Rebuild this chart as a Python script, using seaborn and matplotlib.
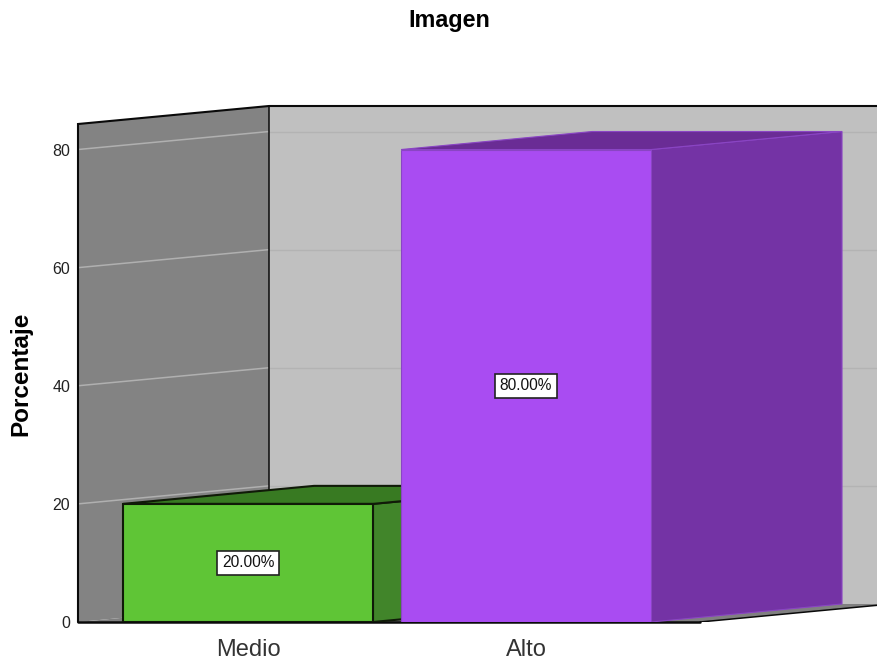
import matplotlib
matplotlib.use("Agg")
import matplotlib.pyplot as plt
from matplotlib.patches import Polygon
import pandas as pd
import seaborn as sns

categorias = ["Medio", "Alto"]
porcentajes = [20.0, 80.0]
colores_frente = ["#5fc536", "#a94cf2"]
colores_lateral = ["#41852a", "#7433a5"]
colores_techo = ["#387a22", "#6a2c95"]
bordes = ["#101a08", "#8a45c4"]
anchos_borde = [1.5, 0.8]
marcas_y = [0, 20, 40, 60, 80]

sns.set_style("white")
plt.rcParams["font.family"] = ["Liberation Sans", "DejaVu Sans"]

W, H = 878, 661
fig = plt.figure(figsize=(W / 100, H / 100), dpi=100)
ax = fig.add_axes([78 / W, (H - 622) / H, 800 / W, 516 / H])

df = pd.DataFrame({"Nivel": categorias, "Porcentaje": porcentajes})
sns.barplot(
    data=df, x="Nivel", y="Porcentaje", hue="Nivel", hue_order=categorias,
    order=categorias, palette=colores_frente, saturation=1, width=0.899,
    legend=False, ax=ax,
)

# Scale: 278 px between categories, 5.906 px per percentage point
x0, x1 = -0.6115, 2.266
y_max = 87.37
ax.set_xlim(x0, x1)
ax.set_ylim(0, y_max)
for s in ax.spines.values():
    s.set_visible(False)
ax.grid(False)

# Oblique depth of the 3D box
dx, dy = 191 / 278, 3.05
techo = y_max - dy
fin_suelo = 1.626
negro = "#0a0a0a"

# Walls and floor
ax.add_patch(Polygon([(x0 + dx, dy), (x1 + 1, dy), (x1 + 1, y_max), (x0 + dx, y_max)],
                     fc="#c0c0c0", ec="none", zorder=0.5))
ax.add_patch(Polygon([(x0, 0), (x0 + dx, dy), (x0 + dx, y_max), (x0, techo)],
                     fc="#838383", ec="none", zorder=0.6))
ax.add_patch(Polygon([(x0, 0), (x0 + dx, dy), (fin_suelo + dx, dy), (fin_suelo, 0)],
                     fc="#808080", ec="none", zorder=0.7))

# Gridlines running along the side and back walls
for v in marcas_y[1:]:
    ax.plot([x0, x0 + dx], [v, v + dy], color="#b0b0b0", lw=1.1, zorder=0.8)
    ax.plot([x0 + dx, x1], [v + dy, v + dy], color="#b3b3b3", lw=1.0, zorder=0.8)

# Box outlines
ax.plot([x0, x0, x0 + dx, x1], [0, techo, y_max, y_max], color=negro, lw=1.5,
        zorder=1, clip_on=False, solid_joinstyle="miter")
ax.plot([x0 + dx, x0 + dx], [dy, y_max], color=negro, lw=1.1, zorder=1)
ax.plot([fin_suelo, fin_suelo + dx], [0, dy], color=negro, lw=1.1, zorder=1)
ax.plot([x0, fin_suelo], [0, 0], color=negro, lw=1.8, zorder=1, clip_on=False)

# Each bar: side and top faces behind the seaborn front face
for i, cont in enumerate(ax.containers):
    b = cont[0]
    left, right = b.get_x(), b.get_x() + b.get_width()
    h = b.get_height()
    z = 2 + 2 * i
    ax.add_patch(Polygon([(right, 0), (right + dx, dy), (right + dx, h + dy), (right, h)],
                         fc=colores_lateral[i], ec=bordes[i], lw=anchos_borde[i], zorder=z))
    ax.add_patch(Polygon([(left, h), (left + dx, h + dy), (right + dx, h + dy), (right, h)],
                         fc=colores_techo[i], ec=bordes[i], lw=anchos_borde[i], zorder=z))
    b.set_edgecolor(bordes[i])
    b.set_linewidth(anchos_borde[i])
    b.set_zorder(z + 1)
    ax.bar_label(
        cont, labels=[f"{h:.2f}%"], label_type="center", fontsize=11.2, color="#111111",
        zorder=10,
        bbox=dict(boxstyle="square,pad=0.28", fc="white", ec="#222222", lw=1.2),
    )

ax.set_yticks(marcas_y)
ax.tick_params(axis="y", length=0, pad=5.5, labelsize=11.5, labelcolor="#222222")
ax.tick_params(axis="x", length=0, pad=12, labelsize=17, labelcolor="#333333")
ax.set_xlabel("")
ax.set_ylabel("")

fig.text(449 / W, 1 - 21 / H, "Imagen", ha="center", va="center",
         fontsize=16.8, fontweight="bold", color="black")
fig.text(21 / W, 1 - 374 / H, "Porcentaje", ha="center", va="center", rotation=90,
         fontsize=17.5, fontweight="bold", color="black")

fig.savefig("out.png", dpi=100)
